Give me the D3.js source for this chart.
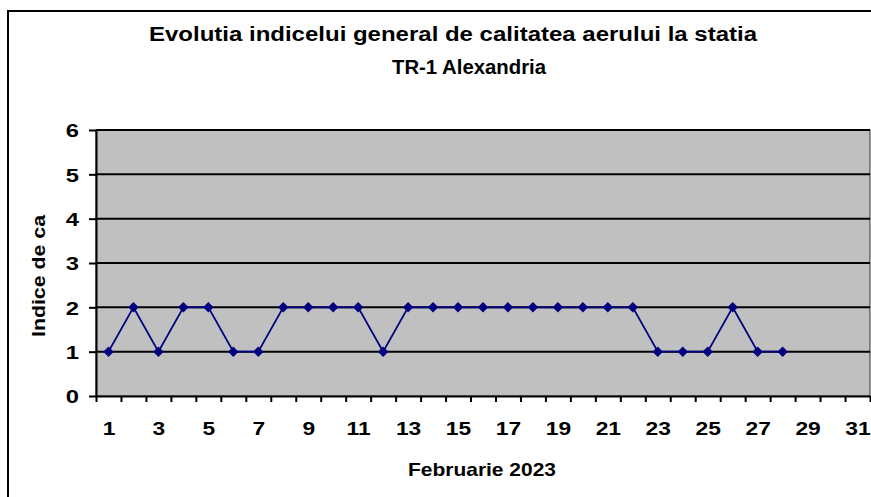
<!DOCTYPE html>
<html>
<head>
<meta charset="utf-8">
<script src="https://cdn.jsdelivr.net/npm/d3@7"></script>
<style>
  body { margin: 0; background: #fff; }
  text { font-family: "Liberation Sans", Arial, sans-serif; font-weight: bold; fill: #000; }
</style>
</head>
<body>
<div id="chart"></div>
<script>
// zile din februarie si indicele general
const days = d3.range(1, 32)
const values = [1, 2, 1, 2, 2, 1, 1, 2, 2, 2, 2, 1, 2, 2, 2, 2, 2, 2, 2, 2, 2, 2, 1, 1, 1, 2, 1, 1]
const yTicks = [0, 1, 2, 3, 4, 5, 6]
const xLabels = days.filter(d => d % 2 === 1)

const titleLines = ["Evolutia indicelui general de calitatea aerului la statia", "TR-1 Alexandria"]
const xTitle = "Februarie 2023"
const yTitle = "Indice de ca"

const W = 871, H = 497
const plot = {left: 96, right: 870, top: 130, bottom: 396}

// textul din original e mai lat decat Arial, il intindem putin
const stretch = (sel, k) => sel.each(function() {
    const len = this.getComputedTextLength()
    d3.select(this).attr("textLength", len * k).attr("lengthAdjust", "spacingAndGlyphs")
})
const fitTo = (sel, width) => sel.attr("textLength", width).attr("lengthAdjust", "spacingAndGlyphs")

const svg = d3.select("#chart").append("svg")
    .attr("width", W)
    .attr("height", H)

// chenarul graficului
svg.append("rect")
    .attr("x", 8).attr("y", 11)
    .attr("width", W + 10).attr("height", H + 10)
    .attr("fill", "#fff")
    .attr("stroke", "#000")
    .attr("stroke-width", 2)

const x = d3.scaleLinear()
    .domain([0.5, 31.5])
    .range([plot.left, plot.right])
const y = d3.scaleLinear()
    .domain([0, 6])
    .range([plot.bottom, plot.top])

svg.append("rect")
    .attr("x", plot.left).attr("y", plot.top)
    .attr("width", plot.right - plot.left)
    .attr("height", plot.bottom - plot.top)
    .attr("fill", "#c0c0c0")
    .attr("stroke", "#333")
    .attr("stroke-width", 1)

// linii orizontale
svg.append("g")
    .selectAll("line")
    .data(yTicks.filter(d => d > 0))
    .join("line")
        .attr("x1", plot.left).attr("x2", plot.right)
        .attr("y1", d => y(d)).attr("y2", d => y(d))
        .attr("stroke", "#000")
        .attr("stroke-width", 2)

// axa Y
const yAxis = svg.append("g")
    .attr("transform", "translate(" + plot.left + ",0)")
    .call(d3.axisLeft(y).tickValues(yTicks).tickFormat(d3.format("d")).tickSize(7).tickPadding(10).tickSizeOuter(0))
yAxis.select(".domain").attr("stroke", "#000").attr("stroke-width", 2)
yAxis.selectAll(".tick line").attr("stroke-width", 2)
yAxis.selectAll("text").style("font-size", "19px").attr("dy", "0.36em").call(stretch, 1.25)

// axa X: gradatii intre zile, etichete la zilele impare
const xAxis = svg.append("g")
    .attr("transform", "translate(0," + plot.bottom + ")")
    .call(d3.axisBottom(x).tickValues(d3.range(0.5, 32, 1)).tickSize(6).tickFormat("").tickSizeOuter(0))
xAxis.select(".domain").attr("stroke", "#000").attr("stroke-width", 2)
xAxis.selectAll(".tick line").attr("stroke-width", 2)

svg.append("g")
    .attr("transform", "translate(0," + plot.bottom + ")")
    .call(d3.axisBottom(x).tickValues(xLabels).tickSize(0).tickPadding(26).tickFormat(d3.format("d")))
    .call(g => g.select(".domain").remove())
    .selectAll("text").style("font-size", "19px").call(stretch, 1.2)

// seria
const line = d3.line()
    .x((d, i) => x(days[i]))
    .y(d => y(d))

svg.append("path")
    .datum(values)
    .attr("fill", "none")
    .attr("stroke", "#000080")
    .attr("stroke-width", 1.8)
    .attr("d", line)

svg.append("g")
    .selectAll("path")
    .data(values)
    .join("path")
        .attr("transform", (d, i) => "translate(" + x(days[i]) + "," + y(d) + ")")
        .attr("d", d3.symbol(d3.symbolDiamond2, 70))
        .attr("fill", "#000080")

// titluri
const titleBox = [{cx: 453, y: 41, size: 20, w: 608}, {cx: 469, y: 74, size: 21, w: 154}]
svg.append("g")
    .selectAll("text")
    .data(titleLines)
    .join("text")
        .attr("x", (d, i) => titleBox[i].cx)
        .attr("y", (d, i) => titleBox[i].y)
        .attr("text-anchor", "middle")
        .style("font-size", (d, i) => titleBox[i].size + "px")
        .attr("textLength", (d, i) => titleBox[i].w)
        .attr("lengthAdjust", "spacingAndGlyphs")
        .text(d => d)

svg.append("text")
    .attr("x", 482).attr("y", 476)
    .attr("text-anchor", "middle")
    .style("font-size", "19px")
    .text(xTitle)
    .call(fitTo, 148)

svg.append("text")
    .attr("transform", "translate(45,276) rotate(-90)")
    .attr("text-anchor", "middle")
    .style("font-size", "19px")
    .text(yTitle)
    .call(fitTo, 122)
</script>
</body>
</html>
